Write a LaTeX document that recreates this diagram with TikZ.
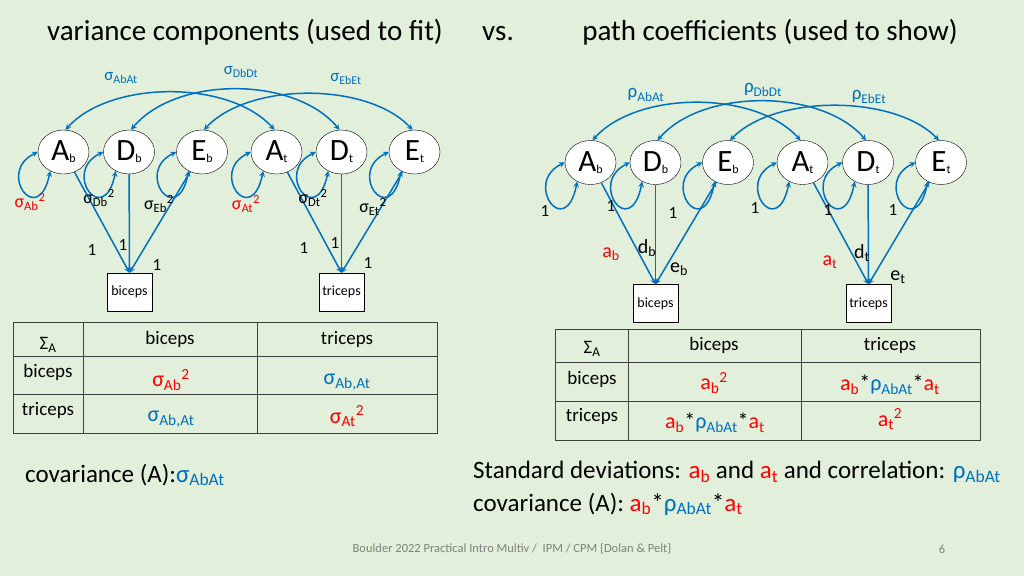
\documentclass[tikz,border=0pt]{standalone}
\usepackage{fontspec}
\setmainfont{Carlito}
\usepackage{xcolor}
\usetikzlibrary{shapes.geometric}

\definecolor{slidebg}{RGB}{226,239,218}
\definecolor{pathblue}{RGB}{0,112,192}
\definecolor{pathred}{RGB}{255,0,0}
\definecolor{gridgray}{RGB}{64,64,64}

\newcommand{\lv}[2]{#1{\fontsize{12}{12}\selectfont\raisebox{-2pt}{#2}}}
\newcommand{\fs}[1]{\fontsize{#1}{#1}\selectfont}
\newcommand{\rd}[1]{\textcolor{pathred}{#1}}
\newcommand{\bl}[1]{\textcolor{pathblue}{#1}}

\tikzset{
  latent/.style={ellipse, draw, fill=white, minimum width=51pt,
    minimum height=44pt, inner sep=0pt, font=\fs{31}},
  observed/.style={rectangle, draw, fill=white, minimum width=45pt,
    minimum height=38pt, inner sep=0pt, font=\fs{14}},
  path/.style={->, draw=pathblue, line width=1.5pt},
  cov/.style={<->, draw=pathblue, line width=1.5pt},
  lab/.style={inner sep=0pt, font=\fs{18}},
  one/.style={inner sep=0pt, font=\fs{17}},
  cell/.style={inner sep=0pt, font=\fs{19}},
}

\begin{document}
\begin{tikzpicture}[x=1pt, y=-1pt, >=stealth]
	\fill[slidebg] (0,0) rectangle (1024,576);
	\useasboundingbox (0,0) rectangle (1024,576);

	% titles
	\node[font=\fs{29}, anchor=base] (titleleft) at (245,40) {variance components (used to fit)};
	\node[font=\fs{29}, anchor=base] (titlevs) at (498,40) {vs.};
	\node[font=\fs{29}, anchor=base] (titleright) at (770,40) {path coefficients (used to show)};

	% left model: variance components
	\node[latent] (Ab) at (63.5,152) {\lv{A}{b}};
	\node[latent] (Db) at (129,152) {\lv{D}{b}};
	\node[latent] (Eb) at (202,152) {\lv{E}{b}};
	\node[latent] (At) at (276.5,152) {\lv{A}{t}};
	\node[latent] (Dt) at (341.5,152) {\lv{D}{t}};
	\node[latent] (Et) at (414.5,152) {\lv{E}{t}};
	\node[observed] (biceps) at (129.5,292) {biceps};
	\node[observed] (triceps) at (341.5,292) {triceps};

	\draw[path] (Ab) -- (biceps.north);
	\draw[path] (Db) -- (biceps.north);
	\draw[path] (Eb) -- (biceps.north);
	\draw[path] (At) -- (triceps.north);
	\draw[path] (Dt) -- (triceps.north);
	\draw[path] (Et) -- (triceps.north);

	\draw[cov] (Ab.west) .. controls +(-42,20) and +(-12,58) .. (Ab.235);
	\draw[cov] (Db.west) .. controls +(-42,20) and +(-12,58) .. (Db.235);
	\draw[cov] (Eb.west) .. controls +(-42,20) and +(-12,58) .. (Eb.235);
	\draw[cov] (At.west) .. controls +(-42,20) and +(-12,58) .. (At.235);
	\draw[cov] (Dt.west) .. controls +(-42,20) and +(-12,58) .. (Dt.235);
	\draw[cov] (Et.west) .. controls +(-42,20) and +(-12,58) .. (Et.235);

	\draw[cov] (Ab.85) .. controls +(45,-50) and +(-45,-50) .. (At.95);
	\draw[cov] (Db.85) .. controls +(45,-54) and +(-45,-54) .. (Dt.95);
	\draw[cov] (Eb.85) .. controls +(45,-48) and +(-45,-48) .. (Et.95);

	\node[lab, font=\fs{17}, text=pathblue] (sAbAt) at (121,78) {σ\textsubscript{AbAt}};
	\node[lab, font=\fs{17}, text=pathblue] (sDbDt) at (241,72) {σ\textsubscript{DbDt}};
	\node[lab, font=\fs{17}, text=pathblue] (sEbEt) at (346,79) {σ\textsubscript{EbEt}};

	\node[lab, text=pathred] (sAb) at (30,202) {σ\textsubscript{Ab}\textsuperscript{2}};
	\node[lab] (sDb) at (99,198) {σ\textsubscript{Db}\textsuperscript{2}};
	\node[lab] (sEb) at (159,204) {σ\textsubscript{Eb}\textsuperscript{2}};
	\node[lab, text=pathred] (sAt) at (246,204) {σ\textsubscript{At}\textsuperscript{2}};
	\node[lab] (sDt) at (313,198) {σ\textsubscript{Dt}\textsuperscript{2}};
	\node[lab] (sEt) at (373,207) {σ\textsubscript{Et}\textsuperscript{2}};

	\node[one] (oneAb) at (92,250) {1};
	\node[one] (oneDb) at (123,245) {1};
	\node[one] (oneEb) at (157,265) {1};
	\node[one] (oneAt) at (304,248) {1};
	\node[one] (oneDt) at (335,243) {1};
	\node[one] (oneEt) at (368,263) {1};

	% right model: path coefficients
	\node[latent] (Abr) at (590.5,162.5) {\lv{A}{b}};
	\node[latent] (Dbr) at (655.5,162.5) {\lv{D}{b}};
	\node[latent] (Ebr) at (728,162.5) {\lv{E}{b}};
	\node[latent] (Atr) at (802.5,162.5) {\lv{A}{t}};
	\node[latent] (Dtr) at (868,162.5) {\lv{D}{t}};
	\node[latent] (Etr) at (941,162.5) {\lv{E}{t}};
	\node[observed] (bicepsr) at (655.5,303.5) {biceps};
	\node[observed] (tricepsr) at (868.5,303.5) {triceps};

	\draw[path] (Abr) -- (bicepsr.north);
	\draw[path] (Dbr) -- (bicepsr.north);
	\draw[path] (Ebr) -- (bicepsr.north);
	\draw[path] (Atr) -- (tricepsr.north);
	\draw[path] (Dtr) -- (tricepsr.north);
	\draw[path] (Etr) -- (tricepsr.north);

	\draw[cov] (Abr.west) .. controls +(-42,20) and +(-12,60) .. (Abr.235);
	\draw[cov] (Dbr.west) .. controls +(-42,20) and +(-12,60) .. (Dbr.235);
	\draw[cov] (Ebr.west) .. controls +(-42,20) and +(-12,60) .. (Ebr.235);
	\draw[cov] (Atr.west) .. controls +(-42,20) and +(-12,60) .. (Atr.235);
	\draw[cov] (Dtr.west) .. controls +(-42,20) and +(-12,60) .. (Dtr.235);
	\draw[cov] (Etr.west) .. controls +(-42,20) and +(-12,60) .. (Etr.235);

	\draw[cov] (Abr.85) .. controls +(45,-50) and +(-45,-50) .. (Atr.95);
	\draw[cov] (Dbr.85) .. controls +(45,-52) and +(-45,-52) .. (Dtr.95);
	\draw[cov] (Ebr.85) .. controls +(45,-46) and +(-45,-46) .. (Etr.95);

	\node[lab, font=\fs{19}, text=pathblue] (rAbAt) at (646,95) {ρ\textsubscript{AbAt}};
	\node[lab, font=\fs{19}, text=pathblue] (rDbDt) at (763,90) {ρ\textsubscript{DbDt}};
	\node[lab, font=\fs{19}, text=pathblue] (rEbEt) at (869,97) {ρ\textsubscript{EbEt}};

	\node[one] (oneAbr) at (545,211) {1};
	\node[one] (oneDbr) at (611,206) {1};
	\node[one] (oneEbr) at (673,213) {1};
	\node[one] (oneAtr) at (755,208) {1};
	\node[one] (oneDtr) at (828,210) {1};
	\node[one] (oneEtr) at (893,210) {1};

	\node[lab, font=\fs{20}, text=pathred] (ab) at (611,254) {a\textsubscript{b}};
	\node[lab, font=\fs{20}] (db) at (647,248) {d\textsubscript{b}};
	\node[lab, font=\fs{20}] (eb) at (679,269) {e\textsubscript{b}};
	\node[lab, font=\fs{20}, text=pathred] (at) at (830,262) {a\textsubscript{t}};
	\node[lab, font=\fs{20}] (dt) at (862,253) {d\textsubscript{t}};
	\node[lab, font=\fs{20}] (et) at (898,277) {e\textsubscript{t}};

	% left table
	\draw[gridgray, line width=0.8pt] (13,322) rectangle (437,433);
	\draw[gridgray, line width=0.8pt] (83,322) -- (83,433);
	\draw[gridgray, line width=0.8pt] (257,322) -- (257,433);
	\draw[gridgray, line width=0.8pt] (13,356) -- (437,356);
	\draw[gridgray, line width=0.8pt] (13,394) -- (437,394);
	\node[cell] (lSigma) at (48,345) {Σ\textsubscript{A}};
	\node[cell] (lhb) at (170,339) {biceps};
	\node[cell] (lht) at (347,339) {triceps};
	\node[cell] (lrb) at (48,372) {biceps};
	\node[cell] (lrt) at (48,410) {triceps};
	\node[cell, font=\fs{22}, text=pathred] (lbb) at (171,380) {σ\textsubscript{Ab}\textsuperscript{2}};
	\node[cell, font=\fs{22}, text=pathblue] (lbt) at (347,382) {σ\textsubscript{Ab,At}};
	\node[cell, font=\fs{22}, text=pathblue] (ltb) at (171,419) {σ\textsubscript{Ab,At}};
	\node[cell, font=\fs{22}, text=pathred] (ltt) at (347,416) {σ\textsubscript{At}\textsuperscript{2}};

	% right table
	\draw[gridgray, line width=0.8pt] (555,329) rectangle (980,440);
	\draw[gridgray, line width=0.8pt] (628,329) -- (628,440);
	\draw[gridgray, line width=0.8pt] (801,329) -- (801,440);
	\draw[gridgray, line width=0.8pt] (555,362) -- (980,362);
	\draw[gridgray, line width=0.8pt] (555,401) -- (980,401);
	\node[cell] (rSigma) at (592,349) {Σ\textsubscript{A}};
	\node[cell] (rhb) at (714,345) {biceps};
	\node[cell] (rht) at (890,345) {triceps};
	\node[cell] (rrb) at (592,379) {biceps};
	\node[cell] (rrt) at (592,416) {triceps};
	\node[cell, font=\fs{22}, text=pathred] (rbb) at (714,383) {a\textsubscript{b}\textsuperscript{2}};
	\node[cell, font=\fs{22}] (rbt) at (890,385) {\rd{a\textsubscript{b}}*\bl{ρ\textsubscript{AbAt}}*\rd{a\textsubscript{t}}};
	\node[cell, font=\fs{22}] (rtb) at (715,423) {\rd{a\textsubscript{b}}*\bl{ρ\textsubscript{AbAt}}*\rd{a\textsubscript{t}}};
	\node[cell, font=\fs{22}, text=pathred] (rtt) at (890,419) {a\textsubscript{t}\textsuperscript{2}};

	% bottom notes
	\node[font=\fs{25}, anchor=west, inner sep=0pt] (covleft) at (25,475) {covariance (A):\bl{σ\textsubscript{AbAt}}};
	\node[font=\fs{25}, anchor=west, inner sep=0pt] (stdright) at (473,472) {Standard deviations: \rd{a\textsubscript{b}} and \rd{a\textsubscript{t}} and correlation: \bl{ρ\textsubscript{AbAt}}};
	\node[font=\fs{25}, anchor=west, inner sep=0pt] (covright) at (473,504) {covariance (A): \rd{a\textsubscript{b}}*\bl{ρ\textsubscript{AbAt}}*\rd{a\textsubscript{t}}};

	% footer
	\node[font=\fs{12.5}, text=black!50] (footer) at (512,549) {Boulder 2022 Practical Intro Multiv /\ \ IPM / CPM \{Dolan \& Pelt\}};
	\node[font=\fs{12.5}, text=black!50] (pagenum) at (942,549) {6};
\end{tikzpicture}
\end{document}
